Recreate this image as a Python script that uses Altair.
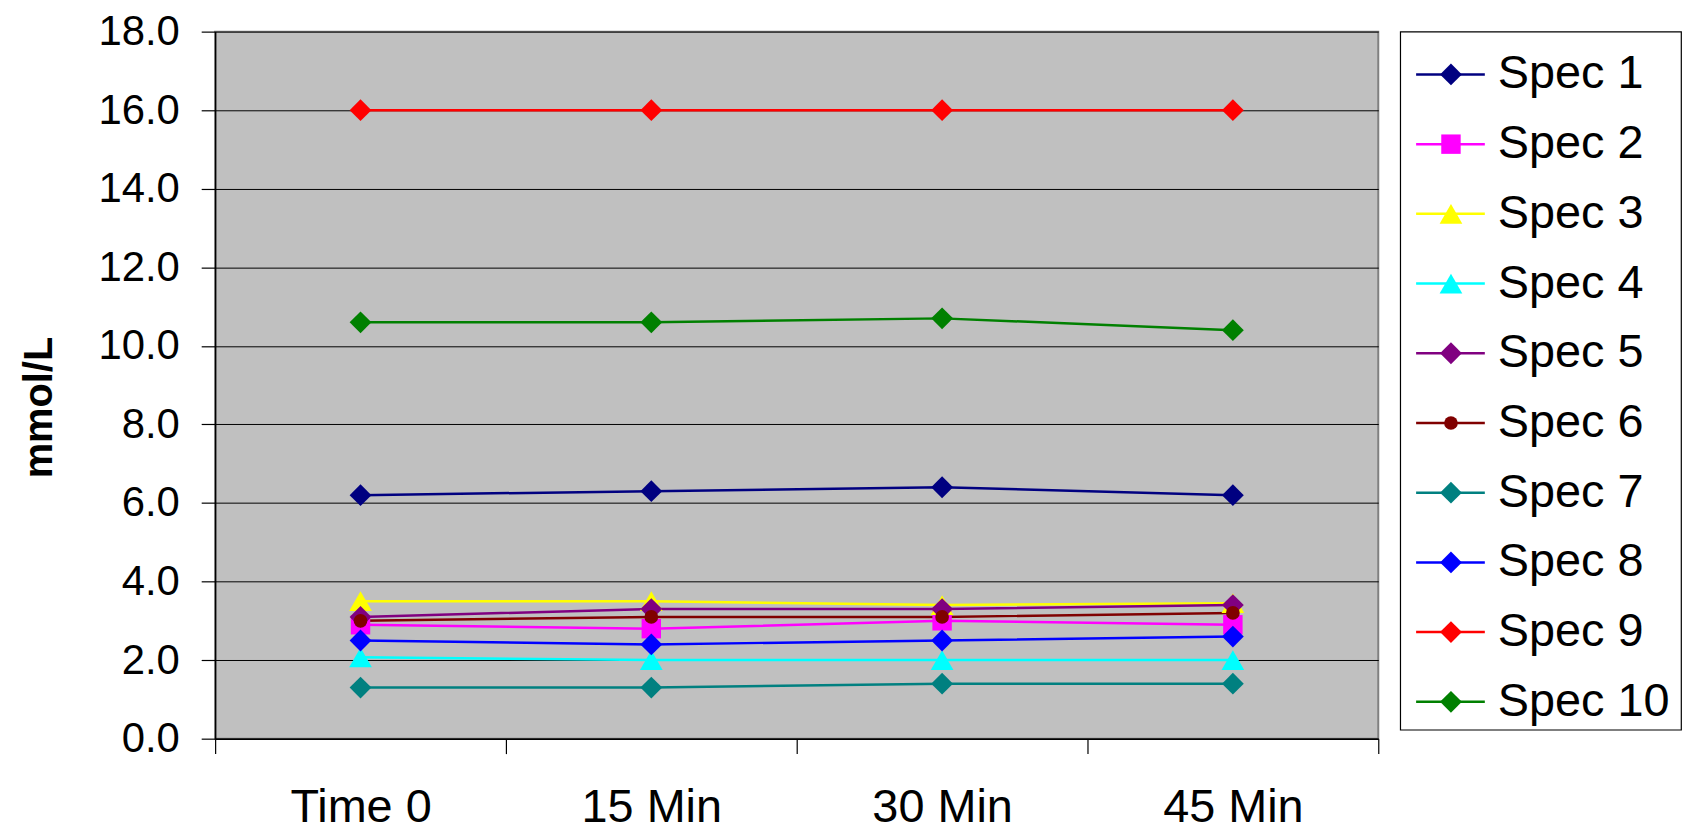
import altair as alt
import pandas as pd

times = ["Time 0", "15 Min", "30 Min", "45 Min"]
series = ["Spec 1", "Spec 2", "Spec 3", "Spec 4", "Spec 5",
          "Spec 6", "Spec 7", "Spec 8", "Spec 9", "Spec 10"]

spec1 = [6.2, 6.3, 6.4, 6.2]
spec2 = [2.9, 2.8, 3.0, 2.9]
spec3 = [3.5, 3.5, 3.4, 3.45]
spec4 = [2.07, 2.0, 2.0, 2.0]
spec5 = [3.1, 3.3, 3.3, 3.4]
spec6 = [3.0, 3.1, 3.1, 3.2]
spec7 = [1.3, 1.3, 1.4, 1.4]
spec8 = [2.5, 2.4, 2.5, 2.6]
spec9 = [16.0, 16.0, 16.0, 16.0]
spec10 = [10.6, 10.6, 10.7, 10.4]

y_ticks = [0, 2, 4, 6, 8, 10, 12, 14, 16, 18]

colors = ["#000080", "#FF00FF", "#FFFF00", "#00FFFF", "#800080",
          "#800000", "#008080", "#0000FF", "#FF0000", "#008000"]
shapes = ["diamond", "square", "triangle-up", "triangle-up", "diamond",
          "circle", "diamond", "diamond", "diamond", "diamond"]
sizes = [480, 380, 520, 520, 480, 190, 480, 480, 480, 480]

all_values = [spec1, spec2, spec3, spec4, spec5, spec6, spec7, spec8, spec9, spec10]
rows = []
for s, vals in zip(series, all_values):
    for t, v in zip(times, vals):
        rows.append({"series": s, "time": t, "value": v})
df = pd.DataFrame(rows)
legend_df = pd.DataFrame({"series": series})

FONT = "Liberation Sans"

color_scale = alt.Scale(domain=series, range=colors)
shape_scale = alt.Scale(domain=series, range=shapes)
size_scale = alt.Scale(type="ordinal", domain=series, range=sizes)

x_enc = alt.X(
    "time:N", sort=times, bandPosition=0.5,
    scale=alt.Scale(type="band", domain=times, paddingInner=0, paddingOuter=0),
    axis=alt.Axis(title=None, labelAngle=0, tickBand="extent", tickSize=15,
                  labelPadding=31, labelFontSize=47, labelFont=FONT, labelColor="black",
                  domainColor="black", domainWidth=1.5, tickColor="black", tickWidth=1.2,
                  grid=False),
)
y_enc = alt.Y(
    "value:Q",
    scale=alt.Scale(domain=[0, 18], nice=False, zero=True),
    axis=alt.Axis(values=y_ticks, format=".1f", title="mmol/L",
                  titleFontSize=40, titleFontWeight="bold", titleFont=FONT, titleColor="black",
                  titlePadding=35, titleY=377,
                  labelFontSize=42, labelFont=FONT, labelColor="black", labelPadding=22,
                  tickSize=14, tickColor="black", tickWidth=1.2,
                  minExtent=121, maxExtent=121,
                  grid=True, gridColor="black", gridWidth=1, gridOpacity=1,
                  domainColor="black", domainWidth=1.5),
)

base = alt.Chart(df)
lines = base.mark_line(strokeWidth=2.5).encode(
    x=x_enc, y=y_enc,
    color=alt.Color("series:N", scale=color_scale, legend=None),
    detail="series:N",
)
points = base.mark_point(filled=True, opacity=1, strokeWidth=0).encode(
    x=x_enc, y=y_enc,
    color=alt.Color("series:N", scale=color_scale, legend=None),
    shape=alt.Shape("series:N", scale=shape_scale, legend=None),
    size=alt.Size("series:N", scale=size_scale, legend=None),
)
main = alt.layer(lines, points).properties(
    width=1168, height=710,
    view=alt.ViewBackground(fill="#C0C0C0", stroke="#808080", strokeWidth=2),
)

ly = alt.Y("series:N", sort=series,
           scale=alt.Scale(type="point", domain=series, range=[43, 673], padding=0),
           axis=None)
lbase = alt.Chart(legend_df)
lrule = lbase.mark_rule(strokeWidth=2.5).encode(
    x=alt.value(16), x2=alt.value(85), y=ly,
    color=alt.Color("series:N", scale=color_scale, legend=None),
)
lpoint = lbase.mark_point(filled=True, opacity=1, strokeWidth=0).encode(
    x=alt.value(51), y=ly,
    color=alt.Color("series:N", scale=color_scale, legend=None),
    shape=alt.Shape("series:N", scale=shape_scale, legend=None),
    size=alt.Size("series:N", scale=size_scale, legend=None),
)
ltext = lbase.mark_text(align="left", baseline="middle", fontSize=47, font=FONT,
                        color="black").encode(
    x=alt.value(98), y=ly, text="series:N",
)
legend = alt.layer(lrule, lpoint, ltext).properties(
    width=282, height=701,
    view=alt.ViewBackground(fill="white", stroke="black", strokeWidth=1.2),
)

chart = alt.hconcat(main, legend, spacing=19).resolve_scale(
    y="independent", x="independent"
).properties(
    padding={"left": 11, "top": 0, "right": 0, "bottom": 0},
    background="white",
).configure(font=FONT)

chart.save("out.html", embed_options={"renderer": "svg", "actions": False})
